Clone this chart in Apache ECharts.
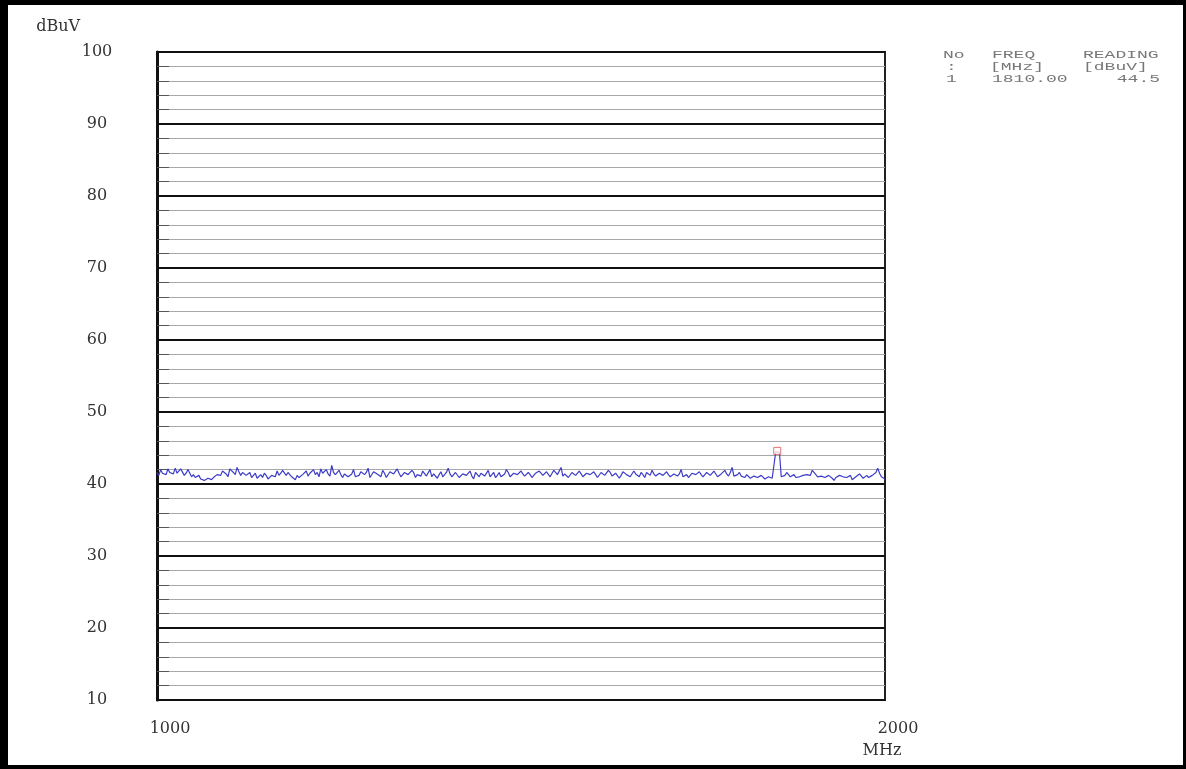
<!DOCTYPE html>
<html>
<head>
<meta charset="utf-8">
<script src="https://cdn.jsdelivr.net/npm/echarts@6/dist/echarts.min.js"></script>
<style>
html,body{margin:0;padding:0;background:#fff;}
#chart{width:1186px;height:769px;}
</style>
</head>
<body>
<div id="chart"></div>
<script>
// ---- data ----
const yTicks = [10, 20, 30, 40, 50, 60, 70, 80, 90, 100];
const xTicks = [1000, 2000];
const traceStartMHz = 1000;
const traceStepMHz = 5;
// readings at 1000, 1005, 1010 ... 2000 MHz
const traceLevels = [
  41.6, 42.0, 41.7, 42.1, 41.8, 42.2, 41.6, 41.9, 41.5, 41.8, 41.3,
  41.0, 40.7, 40.5, 40.8, 40.6, 41.1,
  41.5, 41.8, 41.4, 42.1, 41.6, 42.3, 41.2, 41.7,
  41.0, 40.9, 41.5, 40.7, 40.9, 41.2, 40.8, 41.4,
  41.8, 41.5, 42.0, 41.6, 41.0, 40.6, 40.9, 41.3,
  41.8, 41.5, 42.0, 41.6, 42.1, 41.7, 41.4, 42.6,
  41.3, 41.9, 40.9, 41.6, 41.2, 42.0, 40.8, 41.7, 41.3, 42.2, 41.0, 41.8,
  41.2, 41.9, 40.9, 41.7, 41.4, 42.1, 41.0, 41.6, 41.3, 41.9, 40.9, 41.5, 41.8, 41.1, 42.0, 41.4, 40.8, 41.7, 41.2, 42.2,
  41.0, 41.6, 40.9, 41.4, 41.2, 41.8, 40.7, 41.3, 41.5, 41.1, 41.9, 41.3, 40.9, 41.6, 41.2, 42.0, 41.0, 41.5, 41.3, 41.8,
  41.1, 41.6, 40.9, 41.5, 41.8, 41.2, 41.7, 41.0, 41.9, 41.3, 42.3, 41.4, 40.9, 41.6, 41.2, 41.8, 41.0, 41.5, 41.3, 41.7,
  40.9, 41.6, 41.2, 41.9, 41.1, 41.5, 40.8, 41.7, 41.3, 41.0, 41.8, 41.2, 41.6, 40.9, 41.4, 41.9, 41.1, 41.5, 41.2, 41.7,
  41.0, 41.4, 41.1, 42.0, 41.2, 40.9, 41.5, 41.3, 41.7, 41.0, 41.6, 41.2, 41.8, 41.0, 41.4, 41.9, 41.1, 42.3, 41.2, 41.6,
  41.0, 41.3, 40.8, 41.1, 40.9, 41.2, 40.7, 41.0, 40.8,
  44.5, 44.4,
  40.9, 41.6, 41.0, 41.3, 40.8, 41.2, 41.0, 41.5, 41.9, 41.3, 40.9, 41.2, 40.7, 41.0, 40.5,
  40.9, 41.3, 40.8, 41.1, 40.6, 41.0, 41.4, 40.8, 41.2, 40.9, 41.3, 42.2, 41.0, 40.7
];
// readings at 1002.5, 1007.5 ... 1997.5 MHz
const traceMidLevels = [
  41.2, 41.5, 41.3, 41.6, 41.4, 41.5, 42.1, 41.2, 42.0, 41.0, 40.9, 41.2, 40.9, 40.6, 41.0, 40.9, 41.3, 41.2, 42.0, 41.0,
  41.9, 41.3, 41.7, 41.6, 41.2, 41.6, 41.1, 40.8, 41.3, 41.5, 40.7, 41.2, 41.0, 41.2, 41.9, 41.2, 41.3, 40.8, 41.2, 40.7,
  41.1, 41.1, 41.7, 41.3, 41.0, 41.5, 42.0, 41.1, 41.6, 41.1, 41.3, 41.4, 41.0, 41.4, 41.0, 41.2, 41.5, 41.6, 40.9, 41.7,
  41.4, 41.0, 41.5, 41.0, 41.6, 41.3, 41.5, 41.1, 41.5, 41.2, 41.6, 41.3, 41.1, 41.7, 41.2, 41.0, 41.5, 41.3, 41.0, 41.6,
  41.4, 41.0, 41.5, 41.1, 41.6, 41.3, 41.1, 41.6, 41.0, 41.6, 41.3, 41.0, 41.6, 41.2, 41.0, 41.4, 41.6, 41.0, 41.6, 41.2,
  41.4, 41.0, 41.3, 41.0, 41.4, 41.5, 41.1, 41.6, 41.2, 41.6, 41.5, 41.1, 41.6, 41.0, 41.5, 41.1, 41.4, 41.0, 41.6, 41.1,
  41.3, 41.0, 41.5, 41.3, 41.6, 41.0, 41.3, 41.2, 41.6, 41.5, 41.2, 41.4, 41.0, 41.3, 41.6, 41.2, 41.4, 41.0, 41.6, 41.3,
  41.3, 41.0, 41.6, 41.4, 41.0, 41.3, 41.0, 41.6, 41.1, 41.3, 41.1, 41.5, 41.2, 41.6, 41.1, 41.5, 41.4, 41.6, 41.1, 41.3,
  41.1, 40.9, 41.2, 40.8, 41.1, 40.9, 41.1, 40.8, 41.0, 40.9, 44.5, 41.0, 41.2, 41.3, 41.1, 40.9, 41.0, 41.2, 41.3, 41.2,
  41.6, 41.0, 41.1, 40.9, 41.2, 40.8, 40.9, 41.2, 41.0, 40.9, 41.2, 40.8, 41.1, 41.1, 41.0, 40.9, 41.2, 41.6, 41.5, 40.9
];
const markerFreqs = [1852];
const markerLevels = [44.6];
const tableHeader = ['No', 'FREQ', 'READING'];
const tableUnits = [':', '[MHz]', '[dBuV]'];
const tableRows = [['1', '1810.00', '44.5']];

// ---- build ----
const traceData = [];
traceLevels.forEach((v, i) => {
  const f = traceStartMHz + i * traceStepMHz;
  traceData.push([f, v]);
  if (i < traceMidLevels.length) traceData.push([f + traceStepMHz / 2, traceMidLevels[i]]);
});
const markerData = markerFreqs.map((f, i) => [f, markerLevels[i]]);

const serif = 'DejaVu Serif';
const mono = 'Liberation Mono';
const tableColor = '#777';
const sx = 1.8;
const colX = [943, 992, 1083];
const rowY = [55, 67, 79];

function tText(str, x, y, align) {
  return {
    type: 'text', x: x, y: y, scaleX: sx, silent: true,
    style: { text: str, x: 0, y: 0, fill: tableColor, font: '10px "' + mono + '"',
             align: align || 'left', verticalAlign: 'middle' }
  };
}
const tableGraphics = [];
tableHeader.forEach((h, i) => tableGraphics.push(tText(h, colX[i], rowY[0])));
tableUnits.forEach((u, i) => tableGraphics.push(tText(u, i === 0 ? colX[0] + 3 : (i === 1 ? colX[1] - 2 : colX[2]), rowY[1])));
tableRows.forEach((r, k) => {
  tableGraphics.push(tText(r[0], colX[0] + 3, rowY[2 + k]));
  tableGraphics.push(tText(r[1], colX[1], rowY[2 + k]));
  tableGraphics.push(tText(r[2], 1160, rowY[2 + k], 'right'));
});

const chart = echarts.init(document.getElementById('chart'), null, { renderer: 'canvas' });
chart.setOption({
  animation: false,
  backgroundColor: '#fff',
  grid: { left: 157, right: 301, top: 52, bottom: 69, show: true, borderColor: '#222', borderWidth: 2, backgroundColor: 'transparent' },
  xAxis: {
    type: 'value', min: xTicks[0], max: xTicks[xTicks.length - 1], interval: xTicks[1] - xTicks[0],
    axisLine: { show: false }, axisTick: { show: false }, splitLine: { show: false },
    axisLabel: { color: '#333', fontFamily: serif, fontSize: 16, margin: 21, padding: [0, 0, 0, 26],
                 formatter: v => String(v) },
    name: 'MHz', nameLocation: 'end', nameGap: 0,
    nameTextStyle: { color: '#333', fontFamily: serif, fontSize: 16, align: 'center', verticalAlign: 'top', padding: [43, 6, 0, 0] }
  },
  yAxis: {
    type: 'value', min: yTicks[0], max: yTicks[yTicks.length - 1], interval: yTicks[1] - yTicks[0],
    axisLine: { show: true, lineStyle: { color: '#111', width: 3 } },
    axisTick: { show: false, inside: true },
    minorTick: { show: true, splitNumber: 5, length: 12, lineStyle: { color: '#555', width: 1 } },
    minorSplitLine: { show: true, lineStyle: { color: '#a8a8a8', width: 1 } },
    splitLine: { show: true, lineStyle: { color: '#111', width: 2 } },
    axisLabel: { color: '#333', fontFamily: serif, fontSize: 16, margin: 60, align: 'center',
                 formatter: v => String(v) },
    name: 'dBuV', nameLocation: 'end', nameGap: 25,
    nameTextStyle: { color: '#333', fontFamily: serif, fontSize: 16, align: 'right', verticalAlign: 'middle', padding: [0, 77, 0, 0] }
  },
  series: [
    {
      type: 'line', data: traceData, symbol: 'none', silent: true,
      lineStyle: { color: '#3c3cc8', width: 1.2 }, z: 3
    },
    {
      type: 'scatter', data: markerData, symbol: 'rect', symbolSize: [7, 7], silent: true,
      itemStyle: { color: '#fff', borderColor: '#e05050', borderWidth: 1 }, z: 4
    }
  ],
  graphic: [
    { type: 'rect', shape: { x: 0, y: 0, width: 8, height: 769 }, style: { fill: '#000' }, silent: true },
    { type: 'rect', shape: { x: 0, y: 0, width: 1186, height: 5 }, style: { fill: '#000' }, silent: true },
    { type: 'rect', shape: { x: 1183, y: 0, width: 3, height: 769 }, style: { fill: '#000' }, silent: true },
    { type: 'rect', shape: { x: 0, y: 765, width: 1186, height: 4 }, style: { fill: '#000' }, silent: true }
  ].concat(tableGraphics)
});
</script>
</body>
</html>
